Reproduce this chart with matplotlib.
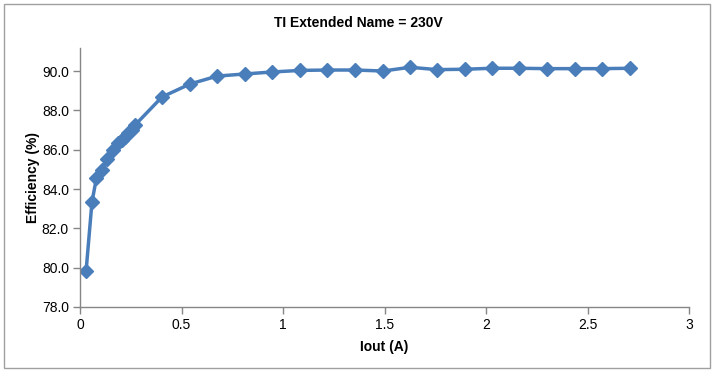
import matplotlib
matplotlib.use("Agg")
import matplotlib.pyplot as plt
from matplotlib.patches import Rectangle

plt.rcParams['font.family'] = ['Liberation Sans', 'DejaVu Sans']

iout = [0.030, 0.059, 0.081, 0.107, 0.134, 0.164, 0.189, 0.205, 0.222, 0.238,
        0.255, 0.271, 0.404, 0.542, 0.675, 0.813, 0.946, 1.084, 1.217, 1.355,
        1.493, 1.626, 1.759, 1.897, 2.030, 2.163, 2.300, 2.438, 2.571, 2.709]
efficiency = [79.83, 83.34, 84.56, 84.97, 85.51, 85.98, 86.32, 86.49, 86.66, 86.83,
              87.00, 87.25, 88.68, 89.34, 89.74, 89.85, 89.95, 90.03, 90.05, 90.05,
              90.00, 90.19, 90.07, 90.09, 90.14, 90.14, 90.12, 90.12, 90.12, 90.14]
xticks = [0, 0.5, 1, 1.5, 2, 2.5, 3]
xticklabels = ['0', '0.5', '1', '1.5', '2', '2.5', '3']
yticks = [78, 80, 82, 84, 86, 88, 90]
yticklabels = ['78.0', '80.0', '82.0', '84.0', '86.0', '88.0', '90.0']

fig = plt.figure(figsize=(7.16, 3.77), dpi=100)
ax = fig.add_axes([80/716, 1-307/377, 609/716, 259/377])

ax.plot(iout, efficiency, color='#4a7ebb', linewidth=2.5, marker='D',
        markersize=7, markerfacecolor='#4a7ebb', markeredgecolor='#4a7ebb')

ax.set_xlim(0, 3)
ax.set_ylim(78, 91.17)
ax.set_xticks(xticks)
ax.set_xticklabels(xticklabels)
ax.set_yticks(yticks)
ax.set_yticklabels(yticklabels)

for s in ['top', 'right']:
    ax.spines[s].set_visible(False)
for s in ['left', 'bottom']:
    ax.spines[s].set_color('#868686')
    ax.spines[s].set_linewidth(1.0)
ax.tick_params(axis='both', direction='out', length=5, width=1, color='#868686',
               labelsize=10, labelcolor='black', pad=3)

ax.set_xlabel('Iout (A)', fontsize=10, fontweight='bold', labelpad=6)
ax.set_ylabel('Efficiency (%)', fontsize=10, fontweight='bold', labelpad=1)
fig.text(0.5, 1-23/377, 'TI Extended Name = 230V', ha='center', va='center',
         fontsize=10, fontweight='bold')

fig.patches.append(Rectangle((4/716, 1-368/377), 706/716, 364/377,
                             transform=fig.transFigure, fill=False,
                             edgecolor='#a0a0a0', linewidth=1.0))

fig.savefig('out.png', dpi=100)
